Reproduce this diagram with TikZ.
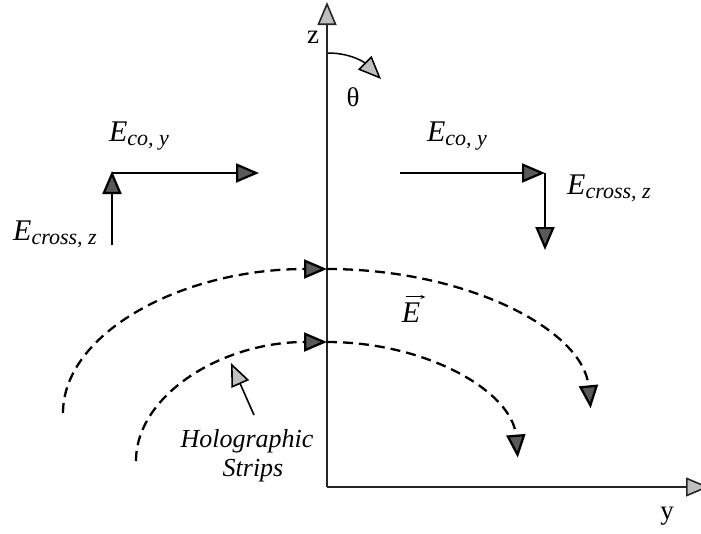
\documentclass[tikz,border=0pt]{standalone}
\usepackage{fontspec}
\setmainfont{Liberation Serif}
\usetikzlibrary{arrows.meta}
\newcommand{\Esub}[1]{{\fontsize{30}{32}\selectfont\itshape E\raisebox{-4pt}{\fontsize{22}{24}\selectfont #1}}}
\begin{document}
\begin{tikzpicture}[x=1pt,y=-1pt,
  dk/.style={-{Triangle[length=23pt,width=19pt,fill=black!65]}},
  lt/.style={-{Triangle[length=23pt,width=19pt,fill=black!25]}},
  solidarr/.style={line width=2.2pt,black},
  axisline/.style={line width=1.6pt,black!85},
  dsh/.style={line width=2.3pt,dash pattern=on 10pt off 6pt,black},
  lbl/.style={inner sep=0pt,anchor=center},
  ]
\useasboundingbox (0,0) rectangle (701,533);
% axes
\coordinate (O) at (327,487);
\coordinate (Ztop) at (327,2);
\coordinate (Yend) at (709,487);
\draw[axisline,lt] (O) -- (Ztop);
\draw[axisline,lt] (O) -- (Yend);
\node[lbl,font=\fontsize{27}{29}\selectfont] (zl) at (313,37) {z};
\node[lbl,font=\fontsize{27}{29}\selectfont] (yl) at (667,516) {y};
% theta
\coordinate (T0) at (328,53);
\coordinate (T1) at (381,79);
\draw[line width=1.5pt,lt] (T0) .. controls (350,53) and (364,62) .. (T1);
\node[lbl,font=\fontsize{27}{29}\selectfont] (th) at (353,97) {θ};
% left field components
\coordinate (L0) at (112,245);
\coordinate (L1) at (112,171);
\coordinate (L2) at (259,173);
\draw[solidarr,dk] (L0) -- (L1);
\draw[solidarr,dk] (L1 |- L2) -- (L2);
\node[lbl] (eco1) at (139,136) {\Esub{co, y}};
\node[lbl] (ecr1) at (55,234) {\Esub{cross, z}};
% right field components
\coordinate (R0) at (400,173);
\coordinate (R1) at (545,173);
\coordinate (R2) at (545,250);
\draw[solidarr,dk] (R0) -- (R1);
\draw[solidarr,dk] (R1) -- (R2);
\node[lbl] (eco2) at (457,136) {\Esub{co, y}};
\node[lbl] (ecr2) at (609,188) {\Esub{cross, z}};
% dashed field lines
\coordinate (A1) at (63,413);
\coordinate (A2) at (327,269);
\coordinate (B1) at (136,461);
\coordinate (B2) at (327,342);
\draw[dsh,dk] (A1) arc[start angle=180,end angle=270,x radius=264,y radius=144];
\draw[dsh,dk] (A2) arc[start angle=270,end angle=357,x radius=264,y radius=147];
\draw[dsh,dk] (B1) arc[start angle=180,end angle=270,x radius=191,y radius=119];
\draw[dsh,dk] (B2) arc[start angle=270,end angle=357,x radius=191,y radius=122];
\node[lbl,font=\fontsize{30}{32}\selectfont\itshape] (ev) at (411,313) {E};
\draw[line width=1pt,-{Stealth[length=5pt,width=4pt]}] ([xshift=4pt,yshift=6pt]ev.north west) -- ([xshift=5pt,yshift=6pt]ev.north east);
% holographic strips
\node[lbl,font=\fontsize{26}{28}\selectfont\itshape] (holo) at (247,441) {Holographic};
\node[lbl,font=\fontsize{26}{28}\selectfont\itshape] (strips) at (253,471) {Strips};
\coordinate (H0) at (254,415);
\coordinate (H1) at (231,363);
\draw[line width=1.6pt,lt] (H0) -- (H1);
\end{tikzpicture}
\end{document}
